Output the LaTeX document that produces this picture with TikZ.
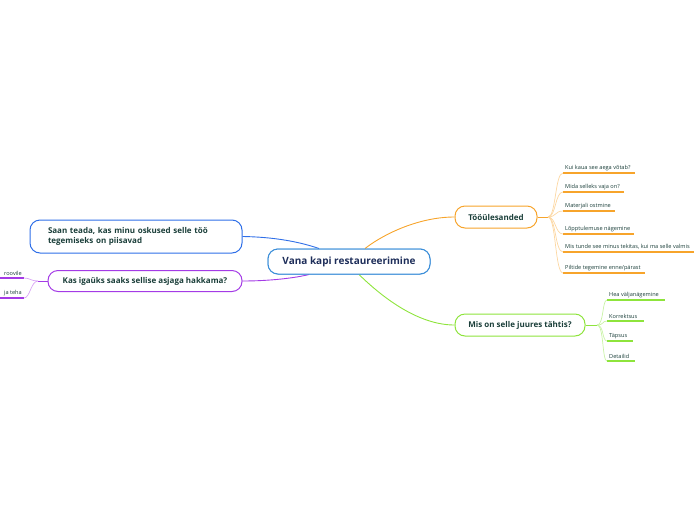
\documentclass[tikz,border=0pt]{standalone}
\usepackage{fontspec}
\setmainfont{Open Sans}
\usetikzlibrary{calc}
\definecolor{txt}{HTML}{1B3F3A}
\definecolor{rootc}{HTML}{1E2E5A}
\definecolor{rootb}{HTML}{3D8FD9}
\definecolor{orng}{HTML}{F7A42B}
\definecolor{orngl}{HTML}{FCD7A2}
\definecolor{grn}{HTML}{8EE43C}
\definecolor{grnl}{HTML}{C9F3A6}
\definecolor{blu}{HTML}{2F6FE8}
\definecolor{purp}{HTML}{A43BE6}
\definecolor{purpl}{HTML}{D9A6F5}
\tikzset{
  rootbox/.style={draw=rootb, line width=1pt, rounded corners=10pt, fill=white,
    minimum width=162pt, minimum height=25pt, font=\fontsize{10}{12}\selectfont\bfseries, text=rootc},
  mainbox/.style={draw=#1, line width=1pt, rounded corners=10pt, fill=white,
    minimum height=22pt, font=\fontsize{8}{10}\selectfont\bfseries, text=txt},
  leaf/.style={inner xsep=2pt, inner ysep=2.2pt, font=\fontsize{5.6}{7}\selectfont, text=txt, anchor=south west},
  leafr/.style={inner xsep=2pt, inner ysep=2.2pt, font=\fontsize{5.6}{7}\selectfont, text=txt, anchor=south east},
  ul/.style={draw=#1, line width=1.1pt},
  br/.style={draw=#1, line width=0.7pt},
  conn/.style={draw=#1, line width=0.9pt}
}
\begin{document}
\begin{tikzpicture}[x=1pt,y=-1pt]
\useasboundingbox (0,0) rectangle (696,520);
\clip (0,0) rectangle (696,520);
% main nodes
\node[rootbox] (root) at (349,261.5) {Vana kapi restaureerimine};
\node[mainbox=orng, minimum width=82pt] (too) at (496,217) {Tööülesanded};
\node[mainbox=grn, minimum width=130pt] (mis) at (520,325) {Mis on selle juures tähtis?};
\node[mainbox=blu, minimum width=212pt, minimum height=33pt, align=left, text width=176pt, inner xsep=0pt] (saan) at (136,236.5) {Saan teada, kas minu oskused selle töö\\tegemiseks on piisavad};
\node[mainbox=purp, minimum width=194pt, minimum height=21pt] (kas) at (145,281) {Kas igaüks saaks sellise asjaga hakkama?};
% connectors from root
\draw[conn=orng] ($(root.north)+(16,0)$) .. controls (385,233) and (420,217) .. (too.west);
\draw[conn=grn] ($(root.south)+(10,0)$) .. controls (385,300) and (420,325) .. (mis.west);
\draw[conn=blu] (saan.east) .. controls (275,237) and (300,242) .. ($(root.north)+(-30,0)$);
\draw[conn=purp] (kas.east) .. controls (270,281) and (295,278) .. ($(root.south)+(-40,0)$);
% redraw root over connector ends
\node[rootbox] at (349,261.5) {Vana kapi restaureerimine};
% orange leaves
\coordinate (hubo) at (548,217);
\draw[conn=orng] (too.east) -- (hubo);
\foreach \n/\y/\t in {o1/173/{Kui kaua see aega võtab?}, o2/192/{Mida selleks vaja on?}, o3/211/{Materjali ostmine}, o4/234/{Lõpptulemuse nägemine}, o5/252/{Mis tunde see minus tekitas, kui ma selle valmis}, o6/273/{Piltide tegemine enne/pärast}}{
  \node[leaf] (\n) at (563,\y) {\t};
  \draw[ul=orng] (\n.south west) -- ($(\n.south east)+(2,0)$);
  \draw[br=orngl] (hubo) .. controls (556,217) and (555,\y) .. (\n.south west);
}
% green leaves
\coordinate (hubg) at (597,325);
\draw[conn=grn] (mis.east) -- (hubg);
\foreach \n/\y/\t in {g1/300/{Hea väljanägemine}, g2/321/{Korrektsus}, g3/341/{Täpsus}, g4/361/{Detailid}}{
  \node[leaf] (\n) at (607,\y) {\t};
  \draw[ul=grn] (\n.south west) -- ($(\n.south east)+(4,0)$);
  \draw[br=grnl] (hubg) .. controls (604,325) and (602,\y) .. (\n.south west);
}
% purple leaves (cut at left edge)
\coordinate (hubp) at (38,281);
\draw[conn=purp] (kas.west) -- (hubp);
\foreach \n/\y/\t in {p1/278/{roovile}, p2/298/{ja teha}}{
  \node[leafr] (\n) at (24,\y) {\t};
  \draw[ul=purp] ($(\n.south west)+(-30,0)$) -- (\n.south east);
  \draw[br=purpl] (hubp) .. controls (31,281) and (30,\y) .. (\n.south east);
}
\end{tikzpicture}
\end{document}
